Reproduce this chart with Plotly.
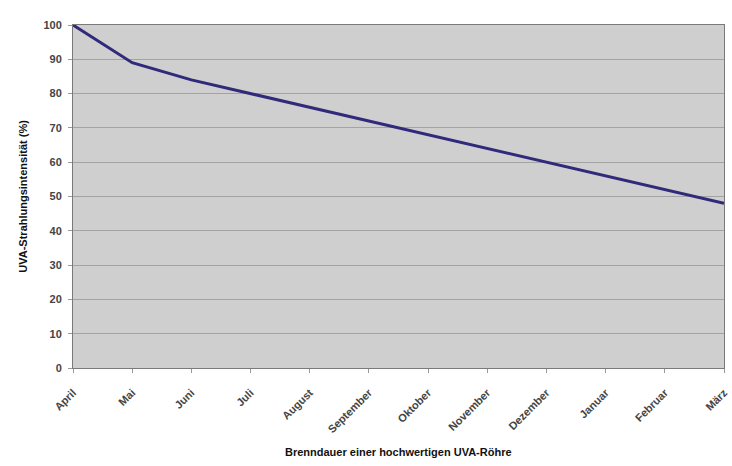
import plotly.graph_objects as go

months = ["April", "Mai", "Juni", "Juli", "August", "September", "Oktober",
          "November", "Dezember", "Januar", "Februar", "März"]
intensity = [100, 89, 84, 80, 76, 72, 68, 64, 60, 56, 52, 48]
y_ticks = [0, 10, 20, 30, 40, 50, 60, 70, 80, 90, 100]

fig = go.Figure()
fig.add_trace(go.Scatter(
    x=months, y=intensity, mode="lines",
    line=dict(color="#2f2a7a", width=3),
    showlegend=False,
))

fig.update_layout(
    width=732, height=466,
    margin=dict(l=73, r=8, t=25, b=98),
    paper_bgcolor="white",
    plot_bgcolor="#cfcfcf",
    font=dict(family="Liberation Sans, Arial, sans-serif", color="#222"),
    annotations=[
        dict(text="<b>Brenndauer einer hochwertigen UVA-Röhre</b>",
             xref="paper", yref="paper", x=0.5, y=-0.245,
             xanchor="center", yanchor="middle", showarrow=False,
             font=dict(size=11, color="#111")),
        dict(text="<b>UVA-Strahlungsintensität (%)</b>",
             xref="paper", yref="paper", x=-0.078, y=0.5,
             xanchor="center", yanchor="middle", showarrow=False,
             textangle=-90, font=dict(size=11, color="#111")),
    ],
)
fig.update_xaxes(
    type="category",
    range=[0, len(months) - 1],
    automargin=False,
    tickangle=-45,
    tickfont=dict(size=11, color="#444", weight="bold"),
    showgrid=False,
    showline=True, linecolor="#7a7a7a", linewidth=1, mirror=True,
    ticks="outside", ticklen=4, tickcolor="#9a9a9a",
    ticklabelstandoff=9,
)
fig.update_yaxes(
    range=[0, 100],
    tickvals=y_ticks,
    automargin=False,
    tickfont=dict(size=11, color="#444", weight="bold"),
    showgrid=True, gridcolor="#a3a3a3", gridwidth=1,
    showline=True, linecolor="#7a7a7a", linewidth=1, mirror=True,
    ticks="outside", ticklen=4, tickcolor="#9a9a9a",
    ticklabelstandoff=4,
    zeroline=False,
)

fig.write_html("out.html")
